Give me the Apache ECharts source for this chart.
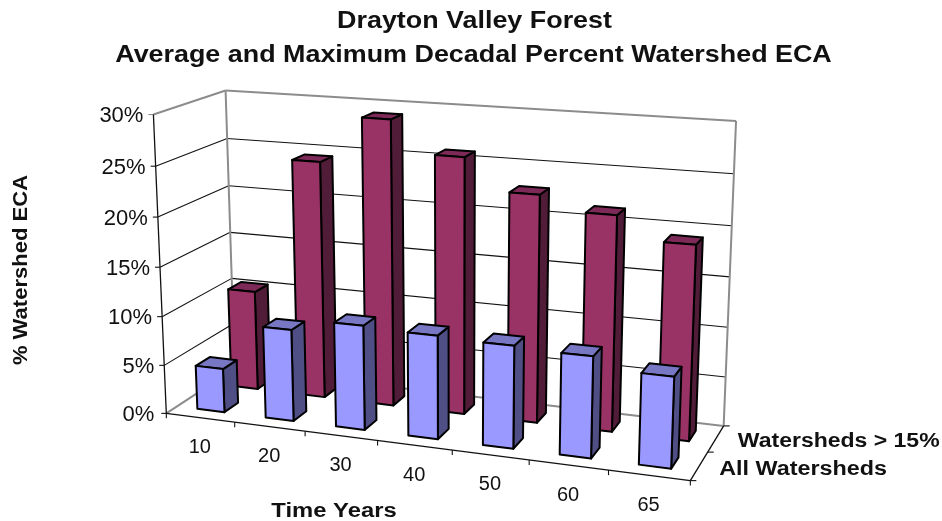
<!DOCTYPE html>
<html><head><meta charset="utf-8">
<style>html,body{margin:0;padding:0;background:#fff}#c{width:942px;height:521px}</style>
<script src="https://cdn.jsdelivr.net/npm/echarts@6/dist/echarts.min.js"></script>
</head><body><div id="c"></div>
<script>
const categories = ['10','20','30','40','50','60','65'];
const allWatersheds = [4.5, 9.3, 10.5, 10.3, 10.1, 9.9, 8.8];
const watershedsOver15 = [10.4, 24.4, 29.1, 25.9, 22.8, 21.4, 19.2];
const yTicks = [0,5,10,15,20,25,30];
const seriesNames = ['All Watersheds','Watersheds > 15%'];
const titleLines = ['Drayton Valley Forest','Average and Maximum Decadal Percent Watershed ECA'];

// camera calibration: unit box corner -> page position (u across, v up, w into the page)
const camera = [
  [0,0,0,167,414],[1,0,0,690,480.5],[0,0,1,234,368],[1,0,1,724,426],
  [0,1,0,153,114],[0,1,1,226,91],[1,1,1,736,121]
];
function solve(A,b){const n=b.length;const M=A.map((r,i)=>[...r,b[i]]);
  for(let i=0;i<n;i++){let p=i;for(let k=i+1;k<n;k++)if(Math.abs(M[k][i])>Math.abs(M[p][i]))p=k;
    [M[i],M[p]]=[M[p],M[i]];
    for(let k=0;k<n;k++){if(k===i)continue;const f=M[k][i]/M[i][i];for(let j=i;j<=n;j++)M[k][j]-=f*M[i][j];}}
  return M.map((r,i)=>r[n]/r[i]);}
const P=(function(){const R=[],B=[];camera.forEach(([x,y,z,a,b])=>{
    R.push([x,y,z,1,0,0,0,0,-a*x,-a*y,-a*z]);B.push(a);
    R.push([0,0,0,0,x,y,z,1,-b*x,-b*y,-b*z]);B.push(b);});
  const A=[],v=[];for(let i=0;i<11;i++){A.push([]);let s=0;for(let j=0;j<11;j++){let t=0;R.forEach(r=>t+=r[i]*r[j]);A[i].push(t);}
    R.forEach((r,k)=>s+=r[i]*B[k]);v.push(s);}
  return solve(A,v);})();
function proj(u,v,w){const d=P[8]*u+P[9]*v+P[10]*w+1;
  return [(P[0]*u+P[1]*v+P[2]*w+P[3])/d,(P[4]*u+P[5]*v+P[6]*w+P[7])/d];}

const FONT='"Liberation Sans",Arial,sans-serif';
const GREY='#8c8c8c',BLACK='#111';
function line(a,b,color,width){return {type:'line',shape:{x1:a[0],y1:a[1],x2:b[0],y2:b[1]},style:{stroke:color,lineWidth:width||1}};}
function txt(text,x,y,align,size,weight,rot,sx){return {type:'text',x:x,y:y,rotation:rot||0,scaleX:sx||1,style:{text:text,x:0,y:0,fill:'#111',textAlign:align,textVerticalAlign:'middle',font:(weight||'normal')+' '+size+'px '+FONT}};}

function renderFrame(params,api){
  const cs=params.coordSys;
  const vOf=val=>(cs.y+cs.height-api.coord([0,val])[1])/cs.height;
  const band=api.size([1,0])[0]/cs.width;
  const ch=[];
  yTicks.forEach(t=>{const v=vOf(t);
    const a=proj(0,v,0),b=proj(0,v,1),c=proj(1,v,1);
    const edge=(t===0||t===30);
    ch.push(line(a,b,edge?GREY:BLACK,edge?2:1.1));
    ch.push(line(b,c,edge?GREY:BLACK,edge?2:1.1));
    ch.push(line(a,[a[0]-5,a[1]],t===30?GREY:BLACK,1.1));
    ch.push(txt(t+'%',a[0]-10-(t===0?2:0),a[1]+1.5,'right',22));
  });
  ch.push(line(proj(0,0,1),proj(0,1,1),GREY,2));
  ch.push(line(proj(1,0,1),proj(1,1,1),GREY,2));
  ch.push(line(proj(0,0,0),proj(0,1,0),BLACK,1.3));
  ch.push(line(proj(0,0,0),proj(1,0,0),BLACK,1.3));
  ch.push(line(proj(1,0,0),proj(1,0,1),BLACK,1.3));
  categories.forEach((c,i)=>{
    const a=proj((i+1)*band,0,0);ch.push(line(a,[a[0],a[1]+5],BLACK,1.1));
    const m=proj((i+0.5)*band,0,0);ch.push(txt(c,m[0]-0.5,m[1]+30,'center',20));
  });
  ch.push(line(proj(0,0,0),[proj(0,0,0)[0],proj(0,0,0)[1]+5],BLACK,1.1));
  [0,0.5,1].forEach(w=>{const a=proj(1,0,w);ch.push(line(a,[a[0]+6,a[1]],BLACK,1.1));});
  seriesNames.forEach((n,i)=>{const a=proj(1,0,0.25+i*0.5);ch.push(txt(n,a[0]+(i?22:20),a[1]+3,'left',20,'bold',0,i?1.15:1.167));});
  ch.push(txt('Time Years',334,511,'center',20,'bold',0,1.19));
  ch.push(txt('% Watershed ECA',22,270,'center',19.5,'bold',Math.PI/2,1.13));
  ch.push(txt(titleLines[0],474.5,21.5,'center',24,'bold',0,1.12));
  ch.push(txt(titleLines[1],473.5,55.5,'center',24,'bold',0,1.12));
  return {type:'group',children:ch};
}
function barRenderer(row,front,side,top){
  return function(params,api){
    const cs=params.coordSys;
    const c=api.coord([api.value(0),api.value(1)]);
    const band=api.size([1,0])[0];
    const u0=(c[0]-cs.x-0.2*band)/cs.width,u1=(c[0]-cs.x+0.2*band)/cs.width;
    const v=(cs.y+cs.height-c[1])/cs.height;
    const w0=row*0.5+0.15,w1=row*0.5+0.35;
    const poly=(pts,fill)=>({type:'polygon',shape:{points:pts},style:{fill:fill,stroke:'#000',lineWidth:2,lineJoin:'round'}});
    return {type:'group',children:[
      poly([proj(u1,0,w0),proj(u1,0,w1),proj(u1,v,w1),proj(u1,v,w0)],side),
      poly([proj(u0,v,w0),proj(u1,v,w0),proj(u1,v,w1),proj(u0,v,w1)],top),
      poly([proj(u0,0,w0),proj(u1,0,w0),proj(u1,v,w0),proj(u0,v,w0)],front)
    ]};
  };
}
const pairs=a=>a.map((v,i)=>[i,v]);
const chart=echarts.init(document.getElementById('c'));
chart.setOption({
  animation:false,
  backgroundColor:'#fff',
  grid:{left:0,top:0,width:942,height:521,containLabel:false},
  xAxis:{type:'category',data:categories,show:false},
  yAxis:{type:'value',min:0,max:30,interval:5,show:false},
  series:[
    {type:'custom',name:'frame',silent:true,renderItem:renderFrame,data:[[0,0]],encode:{x:0,y:1},z:1},
    {type:'custom',name:seriesNames[1],renderItem:barRenderer(1,'#993366','#501c38','#7d2a58'),data:pairs(watershedsOver15),encode:{x:0,y:1},z:2},
    {type:'custom',name:seriesNames[0],renderItem:barRenderer(0,'#9999ff','#4f4f85','#7777c4'),data:pairs(allWatersheds),encode:{x:0,y:1},z:3}
  ]
});
</script></body></html>
